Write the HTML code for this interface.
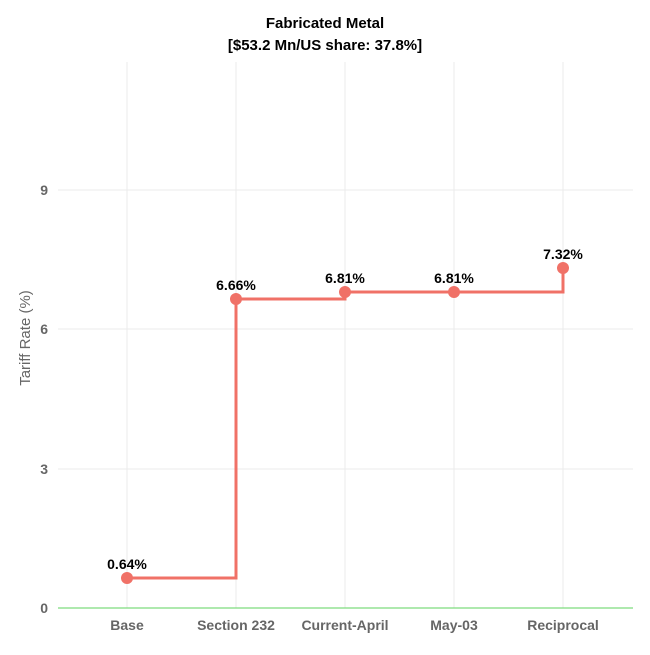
<!DOCTYPE html>
<html><head><style>body{margin:0;background:#fff}</style></head><body>
<svg width="650" height="650" xmlns="http://www.w3.org/2000/svg" font-family="Liberation Sans, sans-serif">
<rect width="650" height="650" fill="#fff"/>
<g stroke="#ebebeb" stroke-width="1">
<line x1="127" y1="62" x2="127" y2="608"/><line x1="236" y1="62" x2="236" y2="608"/><line x1="345" y1="62" x2="345" y2="608"/><line x1="454" y1="62" x2="454" y2="608"/><line x1="563" y1="62" x2="563" y2="608"/>
<line x1="58" y1="190" x2="633" y2="190"/><line x1="58" y1="329" x2="633" y2="329"/><line x1="58" y1="469" x2="633" y2="469"/>
</g>
<line x1="58" y1="608" x2="633" y2="608" stroke="#7ddc7d" stroke-width="1.2"/>
<text x="325" y="28" text-anchor="middle" font-size="15" font-weight="bold">Fabricated Metal</text>
<text x="325" y="50" text-anchor="middle" font-size="15" font-weight="bold">[$53.2 Mn/US share: 37.8%]</text>
<g font-size="14" fill="#666" font-weight="bold" text-anchor="end">
<text x="48" y="195">9</text><text x="48" y="334">6</text><text x="48" y="474">3</text><text x="48" y="613">0</text>
</g>
<g font-size="14" fill="#666" font-weight="bold" text-anchor="middle">
<text x="127" y="630">Base</text><text x="236" y="630">Section 232</text><text x="345" y="630">Current-April</text><text x="454" y="630">May-03</text><text x="563" y="630">Reciprocal</text>
</g>
<text transform="translate(30,338) rotate(-90)" text-anchor="middle" font-size="15" fill="#666">Tariff Rate (%)</text>
<path d="M127 578 H236 V299 H345 V292 H563 V268" fill="none" stroke="#f07167" stroke-width="3"/>
<g fill="#f07167"><circle cx="127" cy="578" r="6"/><circle cx="236" cy="299" r="6"/><circle cx="345" cy="292" r="6"/><circle cx="454" cy="292" r="6"/><circle cx="563" cy="268" r="6"/></g>
<g font-size="14" font-weight="bold" text-anchor="middle">
<text x="127" y="569">0.64%</text><text x="236" y="290">6.66%</text><text x="345" y="283">6.81%</text><text x="454" y="283">6.81%</text><text x="563" y="259">7.32%</text>
</g>
</svg>
</body></html>
